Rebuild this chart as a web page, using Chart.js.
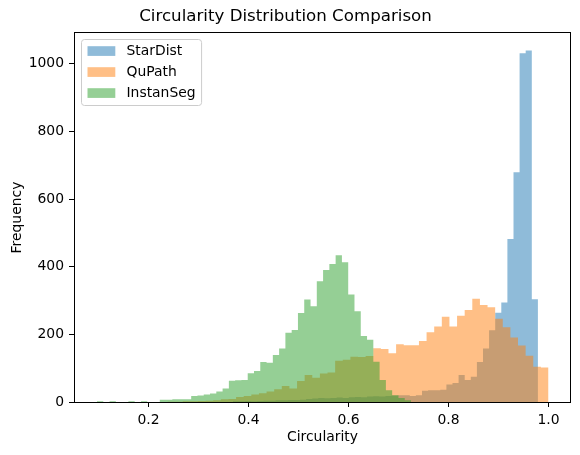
<!DOCTYPE html>
<html>
<head>
<meta charset="utf-8">
<script src="https://cdn.jsdelivr.net/npm/chart.js@4.4.1/dist/chart.umd.min.js"></script>
<style>
  html, body { margin: 0; padding: 0; background: #fff; }
  canvas { display: block; }
</style>
</head>
<body>
<canvas id="histChart" width="580" height="455"></canvas>
<script>
// each histogram has 50 bins between its first and last edge
const seriesNames = ['StarDist', 'QuPath', 'InstanSeg'];

const starDistRange = [0.3688, 0.9788];
const starDistCounts = [2, 2, 3, 2, 3, 4, 4, 5, 5, 6, 6, 7, 9, 10, 12, 11, 12, 13, 12, 14,
  15, 14, 16, 17, 16, 18, 19, 20, 20, 18, 20, 33, 35, 35, 36, 52, 56, 80, 65, 75,
  118, 158, 212, 264, 294, 482, 679, 1031, 1039, 304];

const quPathRange = [0.238, 1.0];
const quPathCounts = [1, 1, 2, 2, 3, 4, 5, 8, 9, 15, 18, 22, 26, 31, 38, 47, 40, 62, 80, 72,
  84, 87, 122, 125, 134, 133, 136, 159, 157, 144, 171, 168, 168, 180, 206, 223, 252, 223, 255, 272,
  305, 287, 280, 246, 221, 191, 167, 137, 104, 102];

const instanSegRange = [0.097, 0.725];
const instanSegCounts = [2, 0, 2, 0, 0, 2, 0, 2, 0, 0, 7, 7, 8, 8, 8, 18, 19, 22, 25, 31,
  40, 63, 64, 65, 85, 92, 118, 116, 139, 158, 205, 213, 263, 303, 283, 357, 390, 408, 434, 413,
  318, 268, 195, 184, 119, 65, 35, 20, 12, 5];

const xTickValues = [0.2, 0.4, 0.6, 0.8, 1.0];
const yTickValues = [0, 200, 400, 600, 800, 1000];

// step points: one per left bin edge, plus the closing right edge
function toSteps(range, counts) {
  const n = counts.length;
  const w = (range[1] - range[0]) / n;
  const pts = counts.map((c, i) => ({x: range[0] + i * w, y: c}));
  pts.push({x: range[1], y: 0});
  return pts;
}

const colors = ['rgba(31,119,180,0.5)', 'rgba(255,127,14,0.5)', 'rgba(44,160,44,0.5)'];
const tickFont = 13.9;

const axesFrame = {
  id: 'axesFrame',
  afterDatasetsDraw(chart) {
    const {ctx, chartArea: a} = chart;
    ctx.save();
    ctx.strokeStyle = '#000';
    ctx.lineWidth = 1;
    ctx.strokeRect(a.left + 0.5, a.top - 0.5, a.right - a.left - 1, a.bottom - a.top + 1);
    ctx.restore();
  }
};

function roundedRect(ctx, x, y, w, h, r) {
  ctx.beginPath();
  ctx.moveTo(x + r, y);
  ctx.arcTo(x + w, y, x + w, y + h, r);
  ctx.arcTo(x + w, y + h, x, y + h, r);
  ctx.arcTo(x, y + h, x, y, r);
  ctx.arcTo(x, y, x + w, y, r);
  ctx.closePath();
}

const boxLegend = {
  id: 'boxLegend',
  afterDraw(chart) {
    const {ctx, chartArea: a} = chart;
    const fs = tickFont;
    ctx.save();
    ctx.font = fs + 'px "DejaVu Sans"';
    const x0 = a.left + 7.5, y0 = a.top + 6.5;
    const textX = x0 + 45;
    const textW = Math.max(...seriesNames.map(n => ctx.measureText(n).width));
    const w = textX - x0 + textW + 6;
    const h = 66;
    roundedRect(ctx, x0, y0, w, h, 3);
    ctx.fillStyle = 'rgba(255,255,255,0.8)';
    ctx.fill();
    ctx.strokeStyle = '#cccccc';
    ctx.lineWidth = 1;
    ctx.stroke();
    seriesNames.forEach((name, i) => {
      const cy = y0 + 11.5 + i * 21;
      ctx.fillStyle = colors[i];
      ctx.fillRect(x0 + 6, cy - 4.8, 27.8, 9.7);
      ctx.fillStyle = '#000';
      ctx.textBaseline = 'middle';
      ctx.textAlign = 'left';
      ctx.fillText(name, textX, cy);
    });
    ctx.restore();
  }
};

Chart.defaults.font.family = '"DejaVu Sans", sans-serif';
Chart.defaults.color = '#000';

const ctx = document.getElementById('histChart').getContext('2d');
new Chart(ctx, {
  type: 'line',
  data: {
    datasets: [
      {label: seriesNames[0], data: toSteps(starDistRange, starDistCounts), backgroundColor: colors[0], order: 3},
      {label: seriesNames[1], data: toSteps(quPathRange, quPathCounts), backgroundColor: colors[1], order: 2},
      {label: seriesNames[2], data: toSteps(instanSegRange, instanSegCounts), backgroundColor: colors[2], order: 1}
    ].map(d => Object.assign(d, {fill: 'origin', stepped: true, borderWidth: 0, borderColor: 'transparent', pointRadius: 0, pointHoverRadius: 0}))
  },
  options: {
    responsive: false,
    animation: false,
    events: [],
    layout: {padding: {left: 0, right: 9, top: 0, bottom: 0}},
    plugins: {
      legend: {display: false},
      tooltip: {enabled: false},
      title: {
        display: true,
        text: 'Circularity Distribution Comparison',
        font: {size: 16.67, weight: 'normal'},
        padding: {top: 7, bottom: 6}
      }
    },
    scales: {
      x: {
        type: 'linear',
        min: 0.051,
        max: 1.045,
        afterBuildTicks: axis => { axis.ticks = xTickValues.map(v => ({value: v})); },
        afterFit: axis => { axis.height = 53; },
        grid: {display: true, drawOnChartArea: false, drawTicks: true, tickLength: 5, color: '#000', lineWidth: 1},
        border: {display: false},
        ticks: {font: {size: tickFont}, padding: 5, maxRotation: 0, autoSkip: false, callback: v => v.toFixed(1)},
        title: {display: true, text: 'Circularity', font: {size: tickFont}, padding: {top: 0, bottom: 9.5}}
      },
      y: {
        type: 'linear',
        min: 0,
        max: 1091,
        afterBuildTicks: axis => { axis.ticks = yTickValues.map(v => ({value: v})); },
        afterFit: axis => { axis.width = 74; },
        grid: {display: true, drawOnChartArea: false, drawTicks: true, tickLength: 5, color: '#000', lineWidth: 1},
        border: {display: false},
        ticks: {font: {size: tickFont}, padding: 5, autoSkip: false, callback: v => String(v)},
        title: {display: true, text: 'Frequency', font: {size: tickFont}, padding: {top: 8.6, bottom: 0}}
      }
    }
  },
  plugins: [axesFrame, boxLegend]
});
</script>
</body>
</html>
